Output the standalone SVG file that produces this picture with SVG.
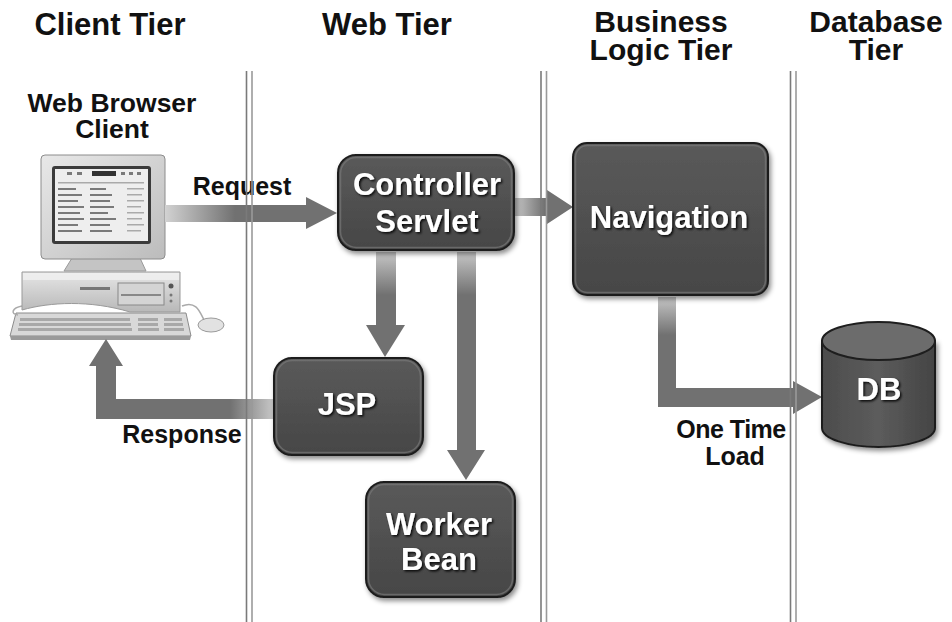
<svg xmlns="http://www.w3.org/2000/svg" width="952" height="622" viewBox="0 0 952 622">
  <style>
    .title { font-family: "Liberation Sans", Arial, sans-serif; font-weight: bold; font-size: 31px; fill: #111; text-anchor: middle; }
    .title2 { font-family: "Liberation Sans", Arial, sans-serif; font-weight: bold; font-size: 30px; fill: #111; text-anchor: middle; }
    .label { font-family: "Liberation Sans", Arial, sans-serif; font-weight: bold; font-size: 25px; fill: #111; text-anchor: middle; }
    .boxtext { font-family: "Liberation Sans", Arial, sans-serif; font-weight: bold; font-size: 31px; fill: #fff; text-anchor: middle; filter: url(#textShadow); }
    .box { fill: url(#boxFill); stroke: #1e1e1e; stroke-width: 2; filter: url(#dropShadow); }
    .bevel { fill: none; stroke: #777; stroke-width: 1.5; opacity: 0.7; }
    .divA { stroke: #7a7a7a; stroke-width: 1.6; }
    .divB { stroke: #9a9a9a; stroke-width: 1.6; }
  </style>
  <defs>
    <linearGradient id="boxFill" x1="0" y1="0" x2="0" y2="1">
      <stop offset="0" stop-color="#5a5a5a"/>
      <stop offset="1" stop-color="#464646"/>
    </linearGradient>
    <filter id="dropShadow" x="-10%" y="-10%" width="125%" height="130%">
      <feDropShadow dx="2" dy="3" stdDeviation="2.5" flood-color="#000" flood-opacity="0.45"/>
    </filter>
    <filter id="textShadow" x="-10%" y="-20%" width="125%" height="150%">
      <feDropShadow dx="1.5" dy="1.5" stdDeviation="1" flood-color="#000" flood-opacity="0.9"/>
    </filter>
    <filter id="soft" x="-5%" y="-5%" width="110%" height="110%">
      <feGaussianBlur stdDeviation="0.5"/>
    </filter>
    <linearGradient id="gReq" gradientUnits="userSpaceOnUse" x1="165" y1="0" x2="235" y2="0">
      <stop offset="0" stop-color="#d2d2d2"/>
      <stop offset="1" stop-color="#717171"/>
    </linearGradient>
    <linearGradient id="gNav" gradientUnits="userSpaceOnUse" x1="515" y1="0" x2="545" y2="0">
      <stop offset="0" stop-color="#c6c6c6"/>
      <stop offset="1" stop-color="#717171"/>
    </linearGradient>
    <linearGradient id="gDown" gradientUnits="userSpaceOnUse" x1="0" y1="252" x2="0" y2="295">
      <stop offset="0" stop-color="#c6c6c6"/>
      <stop offset="1" stop-color="#717171"/>
    </linearGradient>
    <linearGradient id="gResp" gradientUnits="userSpaceOnUse" x1="273" y1="0" x2="230" y2="0">
      <stop offset="0" stop-color="#c6c6c6"/>
      <stop offset="1" stop-color="#717171"/>
    </linearGradient>
    <linearGradient id="gLoad" gradientUnits="userSpaceOnUse" x1="0" y1="297" x2="0" y2="335">
      <stop offset="0" stop-color="#c6c6c6"/>
      <stop offset="1" stop-color="#717171"/>
    </linearGradient>
    <linearGradient id="monitorFill" x1="0" y1="0" x2="1" y2="1">
      <stop offset="0" stop-color="#e8e8e8"/>
      <stop offset="1" stop-color="#bcbcbc"/>
    </linearGradient>
    <linearGradient id="caseFill" x1="0" y1="0" x2="0" y2="1">
      <stop offset="0" stop-color="#e6e6e6"/>
      <stop offset="1" stop-color="#b8b8b8"/>
    </linearGradient>
    <linearGradient id="dbBody" x1="0" y1="0" x2="1" y2="0">
      <stop offset="0" stop-color="#4c4c4c"/>
      <stop offset="0.5" stop-color="#5c5c5c"/>
      <stop offset="1" stop-color="#444"/>
    </linearGradient>
  </defs>

  <!-- tier headings -->
  <g id="headings">
    <text class="title" x="110" y="35">Client Tier</text>
    <text class="title" x="387" y="35">Web Tier</text>
    <text class="title2" x="661" y="32">Business<tspan x="661" dy="28">Logic Tier</tspan></text>
    <text class="title2" x="876" y="32">Database<tspan x="876" dy="28">Tier</tspan></text>
  </g>

  <!-- web browser client -->
  <g id="client">
    <text class="label" x="112" y="112" style="font-size:26.5px">Web Browser<tspan x="112" dy="26">Client</tspan></text>
    <g filter="url(#soft)">
      <!-- keyboard -->
      <polygon points="16,313 186,313 191,336 10,336" fill="#d8d8d8" stroke="#8a8a8a" stroke-width="1"/>
      <polygon points="10,336 191,336 190,340 11,340" fill="#9a9a9a"/>
      <g fill="#a8a8a8">
        <rect x="20" y="318" width="110" height="3"/>
        <rect x="19" y="323" width="112" height="3"/>
        <rect x="18" y="328" width="114" height="3"/>
        <rect x="138" y="318" width="20" height="3"/>
        <rect x="138" y="323" width="20" height="3"/>
        <rect x="138" y="328" width="21" height="3"/>
        <rect x="164" y="318" width="18" height="3"/>
        <rect x="164" y="323" width="19" height="3"/>
        <rect x="164" y="328" width="20" height="3"/>
      </g>
      <!-- mouse and cable -->
      <path d="M182,306 C196,300 200,312 204,320" fill="none" stroke="#aaa" stroke-width="1.5"/>
      <path d="M22,306 C12,308 10,314 18,315" fill="none" stroke="#aaa" stroke-width="1.5"/>
      <ellipse cx="211" cy="325" rx="13" ry="7" fill="#e2e2e2" stroke="#999" stroke-width="1"/>
      <!-- system unit -->
      <path d="M22,272 L180,272 L180,312 L130,312 C90,300 50,302 22,310 Z" fill="url(#caseFill)" stroke="#999" stroke-width="1"/>
      <rect x="23" y="273" width="156" height="7" fill="#f0f0f0" opacity="0.8"/>
      <rect x="80" y="287" width="30" height="3" fill="#777"/>
      <rect x="118" y="283" width="46" height="22" fill="#d4d4d4" stroke="#888" stroke-width="1"/>
      <rect x="121" y="294" width="40" height="2" fill="#888"/>
      <circle cx="171" cy="286" r="2.5" fill="#555"/>
      <circle cx="171" cy="295" r="1.5" fill="#777"/>
      <circle cx="171" cy="301" r="1.5" fill="#777"/>
      <!-- monitor stand -->
      <polygon points="72,258 140,258 146,271 64,271" fill="#c4c4c4" stroke="#999" stroke-width="1"/>
      <!-- monitor -->
      <rect x="41" y="155" width="124" height="104" rx="4" fill="url(#monitorFill)" stroke="#8c8c8c" stroke-width="1"/>
      <rect x="52" y="166" width="99" height="78" rx="3" fill="#3a3a3a"/>
      <rect x="55" y="169" width="93" height="72" fill="#eeeeee"/>
      <!-- page shown on the screen -->
      <g fill="#7a7a7a">
        <rect x="67" y="172" width="5" height="3"/>
        <rect x="77" y="172" width="5" height="3"/>
        <rect x="92" y="171" width="24" height="5" fill="#333"/>
        <rect x="121" y="172" width="4" height="3"/>
        <rect x="129" y="172" width="4" height="3"/>
        <rect x="137" y="172" width="4" height="3"/>
        <rect x="58" y="182" width="86" height="1.5" fill="#aaa"/>
        <rect x="58" y="188" width="18" height="2"/>
        <rect x="90" y="188" width="16" height="2"/>
        <rect x="58" y="194" width="24" height="2"/>
        <rect x="90" y="194" width="22" height="2"/>
        <rect x="58" y="200" width="20" height="2"/>
        <rect x="90" y="200" width="20" height="2"/>
        <rect x="58" y="206" width="26" height="2"/>
        <rect x="90" y="206" width="24" height="2"/>
        <rect x="58" y="212" width="22" height="2"/>
        <rect x="90" y="212" width="18" height="2"/>
        <rect x="58" y="218" width="26" height="2"/>
        <rect x="90" y="218" width="26" height="2"/>
        <rect x="58" y="224" width="20" height="2"/>
        <rect x="90" y="224" width="20" height="2"/>
        <rect x="58" y="230" width="24" height="2"/>
        <rect x="90" y="230" width="22" height="2"/>
        <rect x="127" y="188" width="17" height="1.5" fill="#aaa"/>
        <rect x="127" y="194" width="15" height="1.5" fill="#aaa"/>
        <rect x="127" y="200" width="17" height="1.5" fill="#aaa"/>
        <rect x="127" y="206" width="14" height="1.5" fill="#aaa"/>
        <rect x="127" y="212" width="17" height="1.5" fill="#aaa"/>
        <rect x="127" y="218" width="15" height="1.5" fill="#aaa"/>
        <rect x="127" y="224" width="17" height="1.5" fill="#aaa"/>
        <rect x="127" y="230" width="14" height="1.5" fill="#aaa"/>
      </g>
    </g>
  </g>

  <!-- connectors -->
  <g id="connectors">
    <!-- Request -->
    <polygon points="165,205 306,205 306,197 337,213 306,229 306,222 165,222" fill="url(#gReq)"/>
    <!-- Controller to Navigation -->
    <polygon points="515,198 547,198 547,190 573,207 547,224 547,216 515,216" fill="url(#gNav)"/>
    <!-- Controller to JSP -->
    <polygon points="376,252 396,252 396,325 405,325 385,357 366,325 376,325" fill="url(#gDown)"/>
    <!-- Controller to Worker Bean -->
    <polygon points="457,252 476,252 476,450 485,450 466,480 447,450 457,450" fill="url(#gDown)"/>
    <!-- Response -->
    <polygon points="273,399 116,399 116,366 123,366 106,339 89,366 96,366 96,419 273,419" fill="url(#gResp)"/>
    <!-- One Time Load -->
    <polygon points="658,297 676,297 676,388 793,388 793,381 822,397 793,414 793,407 658,407" fill="url(#gLoad)"/>
    <text class="label" x="242" y="195">Request</text>
    <text class="label" x="182" y="443">Response</text>
    <text class="label" x="731" y="438"><tspan letter-spacing="-0.5">One Time</tspan><tspan x="735" dy="27">Load</tspan></text>
  </g>

  <!-- tier dividers -->
  <g id="dividers">
    <line class="divA" x1="246.5" y1="71" x2="246.5" y2="622"/>
    <line class="divB" x1="252" y1="71" x2="252" y2="622"/>
    <line class="divA" x1="541" y1="71" x2="541" y2="622"/>
    <line class="divB" x1="546.5" y1="71" x2="546.5" y2="622"/>
    <line class="divA" x1="790.5" y1="71" x2="790.5" y2="622"/>
    <line class="divB" x1="796" y1="71" x2="796" y2="622"/>
  </g>

  <!-- Controller Servlet -->
  <g id="controller-servlet">
    <rect class="box" x="338" y="155" width="176" height="95" rx="18"/>
    <rect class="bevel" x="340.5" y="157.5" width="171" height="90" rx="16"/>
    <text class="boxtext" x="427" y="195">Controller<tspan x="427" dy="37">Servlet</tspan></text>
  </g>

  <!-- Navigation -->
  <g id="navigation">
    <rect class="box" x="573" y="143" width="195" height="152" rx="14"/>
    <rect class="bevel" x="575.5" y="145.5" width="190" height="147" rx="12"/>
    <text class="boxtext" x="669" y="228">Navigation</text>
  </g>

  <!-- JSP -->
  <g id="jsp">
    <rect class="box" x="274" y="358" width="149" height="97" rx="18"/>
    <rect class="bevel" x="276.5" y="360.5" width="144" height="92" rx="16"/>
    <text class="boxtext" x="347" y="415">JSP</text>
  </g>

  <!-- Worker Bean -->
  <g id="worker-bean">
    <rect class="box" x="366" y="482" width="149" height="115" rx="18"/>
    <rect class="bevel" x="368.5" y="484.5" width="144" height="110" rx="16"/>
    <text class="boxtext" x="439" y="535">Worker<tspan x="439" dy="35">Bean</tspan></text>
  </g>

  <!-- DB -->
  <g id="db">
    <path d="M822,341 L822,428 A56.5,19 0 0 0 935,428 L935,341 Z" fill="url(#dbBody)" stroke="#1e1e1e" stroke-width="2" filter="url(#dropShadow)"/>
    <ellipse cx="878.5" cy="341" rx="56.5" ry="19" fill="#6c6c6c" stroke="#1e1e1e" stroke-width="2"/>
    <text class="boxtext" x="879" y="400">DB</text>
  </g>
</svg>
